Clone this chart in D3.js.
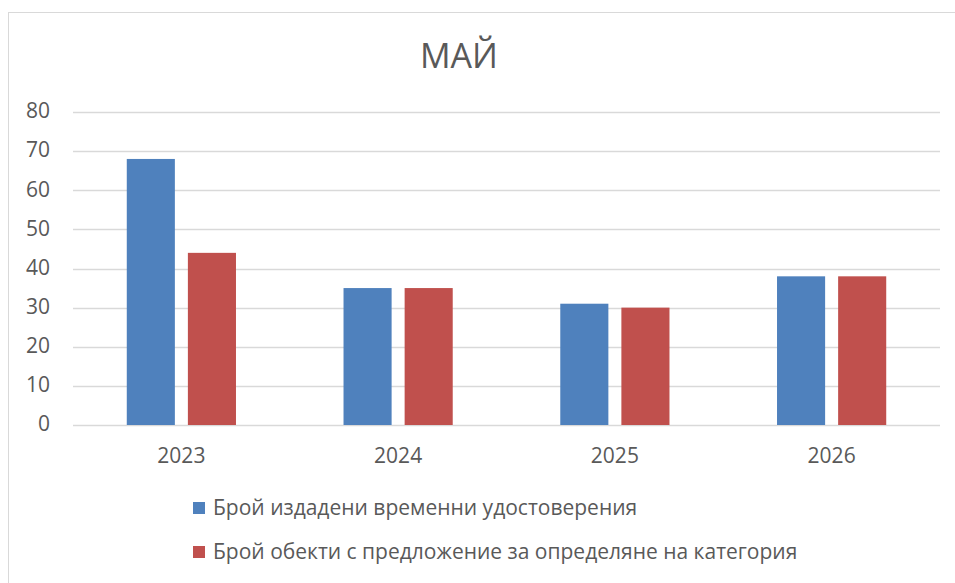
<!DOCTYPE html>
<html>
<head>
<meta charset="utf-8">
<script src="https://cdn.jsdelivr.net/npm/d3@7"></script>
<style>
  body { margin: 0; background: #fff; }
  svg { display: block; font-family: "Open Sans", "Noto Sans", sans-serif; }
</style>
</head>
<body>
<svg id="chart" width="955" height="583"></svg>
<script>
var years = ["2023", "2024", "2025", "2026"];
var issued = [68, 35, 31, 38];
var proposed = [44, 35, 30, 38];
var seriesNames = [
  "Брой издадени временни удостоверения",
  "Брой обекти с предложение за определяне на категория"
];
var seriesColors = ["#4f81bd", "#c0504d"];
var yTicks = [0, 10, 20, 30, 40, 50, 60, 70, 80];

var svg = d3.select("#chart");

// outer chart frame
svg.append("rect")
  .attr("x", 8.5).attr("y", 12.5)
  .attr("width", 960).attr("height", 600)
  .attr("fill", "#fff")
  .attr("stroke", "#d9d9d9");

var margin = { left: 73, right: 940, top: 112, bottom: 425 };

var x0 = d3.scaleBand()
  .domain(years)
  .range([margin.left, margin.right]);

var x1 = d3.scaleBand()
  .domain([0, 1])
  .range([0, x0.bandwidth()])
  .paddingInner(0.213)
  .paddingOuter(0.88);

var y = d3.scaleLinear()
  .domain([0, 80])
  .range([margin.bottom, margin.top]);

// gridlines
svg.append("g")
  .selectAll("line")
  .data(yTicks)
  .join("line")
  .attr("x1", margin.left)
  .attr("x2", margin.right)
  .attr("y1", d => Math.round(y(d)) + 0.5)
  .attr("y2", d => Math.round(y(d)) + 0.5)
  .attr("stroke", "#d9d9d9")
  .attr("stroke-width", 1.3);

// y labels
svg.append("g")
  .selectAll("text")
  .data(yTicks)
  .join("text")
  .attr("x", 50)
  .attr("y", d => y(d) - 1)
  .attr("dy", "0.35em")
  .attr("text-anchor", "end")
  .attr("fill", "#595959")
  .attr("font-size", 21)
  .text(d => d);

// x labels
svg.append("g")
  .selectAll("text")
  .data(years)
  .join("text")
  .attr("x", d => x0(d) + x0.bandwidth() / 2)
  .attr("y", 456)
  .attr("dy", "0.35em")
  .attr("text-anchor", "middle")
  .attr("fill", "#595959")
  .attr("font-size", 21)
  .text(d => d);

// bars
var groups = svg.append("g")
  .selectAll("g")
  .data(years)
  .join("g")
  .attr("transform", d => "translate(" + x0(d) + ",0)");

groups.selectAll("rect")
  .data((d, i) => [issued[i], proposed[i]])
  .join("rect")
  .attr("x", (d, j) => x1(j))
  .attr("width", x1.bandwidth())
  .attr("y", d => y(d))
  .attr("height", d => y(0) - y(d))
  .attr("fill", (d, j) => seriesColors[j]);

// title
svg.append("text")
  .attr("x", 459)
  .attr("y", 68)
  .attr("text-anchor", "middle")
  .attr("fill", "#595959")
  .attr("font-size", 34)
  .text("МАЙ");

// legend
var legend = svg.append("g")
  .selectAll("g")
  .data(seriesNames)
  .join("g")
  .attr("transform", (d, i) => "translate(193," + (508 + i * 44) + ")");

legend.append("rect")
  .attr("x", 0).attr("y", -6)
  .attr("width", 12).attr("height", 12)
  .attr("fill", (d, i) => seriesColors[i]);

legend.append("text")
  .attr("x", 20)
  .attr("y", 0)
  .attr("dy", "0.35em")
  .attr("fill", "#595959")
  .attr("font-size", 21)
  .text(d => d);
</script>
</body>
</html>
